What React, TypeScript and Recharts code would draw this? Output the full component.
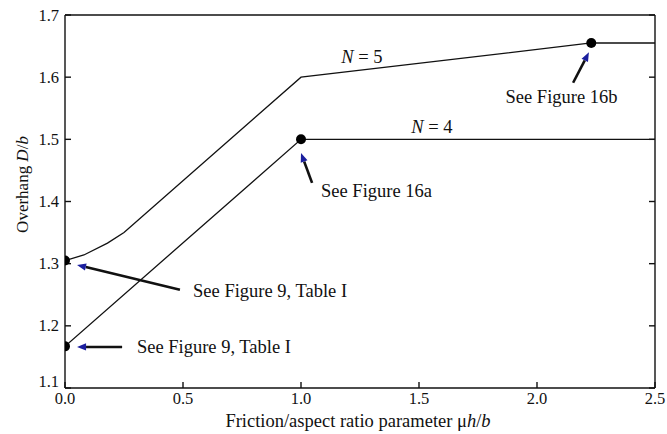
import React from "react"
import {
  ComposedChart,
  Line,
  Scatter,
  XAxis,
  YAxis,
  ReferenceLine,
  ReferenceDot,
  Label,
} from "recharts"

// curve N = 5
const n5X = [0, 0.08, 0.18, 0.25, 1.0, 2.23, 2.5]
const n5Y = [1.305, 1.314, 1.333, 1.35, 1.6, 1.655, 1.655]
// curve N = 4
const n4X = [0, 1.0, 2.5]
const n4Y = [1.167, 1.5, 1.5]
// marked points
const dotX = [0, 2.23, 0, 1.0]
const dotY = [1.305, 1.655, 1.167, 1.5]

const xTicks = [0, 0.5, 1.0, 1.5, 2.0, 2.5]
const yTicks = [1.1, 1.2, 1.3, 1.4, 1.5, 1.6, 1.7]

// arrows: tail -> tip
const arrowFrom = [
  { x: 0.487, y: 1.258 },
  { x: 0.242, y: 1.166 },
  { x: 1.047, y: 1.43 },
  { x: 2.153, y: 1.591 },
]
const arrowTo = [
  { x: 0.051, y: 1.298 },
  { x: 0.051, y: 1.166 },
  { x: 1.0, y: 1.478 },
  { x: 2.22, y: 1.64 },
]

const notes = ["See Figure 9, Table I", "See Figure 9, Table I", "See Figure 16a", "See Figure 16b"]
const noteX = [0.869, 0.631, 1.32, 2.104]
const noteY = [1.247, 1.156, 1.407, 1.558]

const curveLabels = ["5", "4"]
const curveLabelX = [1.258, 1.555]
const curveLabelY = [1.623, 1.51]

const n5 = n5X.map((x, i) => ({ x, y: n5Y[i] }))
const n4 = n4X.map((x, i) => ({ x, y: n4Y[i] }))
const dots = dotX.map((x, i) => ({ x, y: dotY[i] }))

const FONT = "Liberation Serif, DejaVu Serif, serif"
const INK = "#111"
const fontStyle = { fontFamily: FONT }

function Arrow(p: any) {
  const { x1, y1, x2, y2 } = p
  const dx = x2 - x1
  const dy = y2 - y1
  const len = Math.sqrt(dx * dx + dy * dy)
  const ux = dx / len
  const uy = dy / len
  const head = 9
  const hw = 3.6
  const bx = x2 - ux * head
  const by = y2 - uy * head
  const pts = `${x2},${y2} ${bx - uy * hw},${by + ux * hw} ${bx + uy * hw},${by - ux * hw}`
  return (
    <g>
      <line x1={x1} y1={y1} x2={bx} y2={by} stroke={INK} strokeWidth={2.6} />
      <polygon points={pts} fill="#1b1f9e" />
    </g>
  )
}

// left tick labels; the lowest one sits a little above the corner as in the original
function YTick(p: any) {
  const v = p.payload.value
  const lift = v < 1.15 ? -7 : 0
  return (
    <text
      x={p.x}
      y={p.y + lift}
      textAnchor="end"
      dominantBaseline="central"
      style={fontStyle}
      fontSize={16.5}
      fill={INK}
    >
      {v.toFixed(1)}
    </text>
  )
}

const noTick = () => <g />

export default function App() {
  return (
    <div style={{ position: "absolute", left: 0, top: 0, background: "#fff", fontFamily: FONT }}>
      <ComposedChart
        width={667}
        height={434}
        margin={{ top: 14, right: 11, bottom: 0, left: 0 }}
        style={fontStyle}
      >
        <XAxis
          xAxisId="x"
          dataKey="x"
          type="number"
          domain={[0, 2.5]}
          ticks={xTicks}
          allowDataOverflow
          height={46}
          tickSize={-6}
          tickMargin={10}
          tickFormatter={(v: number) => v.toFixed(1)}
          tick={{ fontFamily: FONT, fontSize: 16.5, fill: INK, style: fontStyle }}
          stroke={INK}
          strokeWidth={1.4}
        >
          <Label
            content={(p: any) => {
              const vb = p.viewBox
              return (
                <text
                  x={vb.x + vb.width / 2 - 2}
                  y={vb.y + 39}
                  textAnchor="middle"
                  style={fontStyle}
                  fontSize={18.5}
                  fill={INK}
                >
                  Friction/aspect ratio parameter μ
                  <tspan fontStyle="italic">h</tspan>/
                  <tspan fontStyle="italic">b</tspan>
                </text>
              )
            }}
          />
        </XAxis>
        <XAxis
          xAxisId="xt"
          orientation="top"
          type="number"
          domain={[0, 2.5]}
          ticks={xTicks}
          allowDataOverflow
          height={1}
          tickSize={-6}
          tick={noTick}
          stroke={INK}
          strokeWidth={1.4}
        />
        <YAxis
          yAxisId="y"
          dataKey="y"
          type="number"
          domain={[1.1, 1.7]}
          ticks={yTicks}
          allowDataOverflow
          width={65}
          tickSize={-6}
          tickMargin={12}
          tick={YTick}
          stroke={INK}
          strokeWidth={1.4}
        >
          <Label
            content={(p: any) => {
              const vb = p.viewBox
              const cx = 22
              const cy = vb.y + vb.height / 2 - 17
              return (
                <text
                  x={cx}
                  y={cy}
                  transform={`rotate(-90 ${cx} ${cy})`}
                  textAnchor="middle"
                  dominantBaseline="central"
                  style={fontStyle}
                  fontSize={17}
                  fill={INK}
                >
                  Overhang <tspan fontStyle="italic">D</tspan>/
                  <tspan fontStyle="italic">b</tspan>
                </text>
              )
            }}
          />
        </YAxis>
        <YAxis
          yAxisId="yr"
          orientation="right"
          type="number"
          domain={[1.1, 1.7]}
          ticks={yTicks}
          allowDataOverflow
          width={1}
          tickSize={-6}
          tick={noTick}
          stroke={INK}
          strokeWidth={1.4}
        />

        <Line
          xAxisId="x"
          yAxisId="y"
          data={n5}
          dataKey="y"
          type="linear"
          stroke={INK}
          strokeWidth={1.3}
          dot={false}
          isAnimationActive={false}
        />
        <Line
          xAxisId="x"
          yAxisId="y"
          data={n4}
          dataKey="y"
          type="linear"
          stroke={INK}
          strokeWidth={1.3}
          dot={false}
          isAnimationActive={false}
        />
        <Scatter
          xAxisId="x"
          yAxisId="y"
          data={dots}
          dataKey="y"
          isAnimationActive={false}
          shape={(p: any) => <circle cx={p.cx} cy={p.cy} r={5} fill="#000" />}
        />

        {arrowFrom.map((a, i) => (
          <ReferenceLine
            key={"arrow" + i}
            xAxisId="x"
            yAxisId="y"
            segment={[a, arrowTo[i]]}
            shape={Arrow}
            ifOverflow="visible"
          />
        ))}

        {notes.map((t, i) => (
          <ReferenceDot
            key={"note" + i}
            xAxisId="x"
            yAxisId="y"
            x={noteX[i]}
            y={noteY[i]}
            ifOverflow="visible"
            shape={(p: any) => (
              <text
                x={p.cx}
                y={p.cy}
                textAnchor="middle"
                style={fontStyle}
                fontSize={18.5}
                fill={INK}
              >
                {t}
              </text>
            )}
          />
        ))}

        {curveLabels.map((n, i) => (
          <ReferenceDot
            key={"n" + i}
            xAxisId="x"
            yAxisId="y"
            x={curveLabelX[i]}
            y={curveLabelY[i]}
            ifOverflow="visible"
            shape={(p: any) => (
              <text
                x={p.cx}
                y={p.cy}
                textAnchor="middle"
                style={fontStyle}
                fontSize={18.5}
                fill={INK}
              >
                <tspan fontStyle="italic">N</tspan> = {n}
              </text>
            )}
          />
        ))}
      </ComposedChart>
    </div>
  )
}
